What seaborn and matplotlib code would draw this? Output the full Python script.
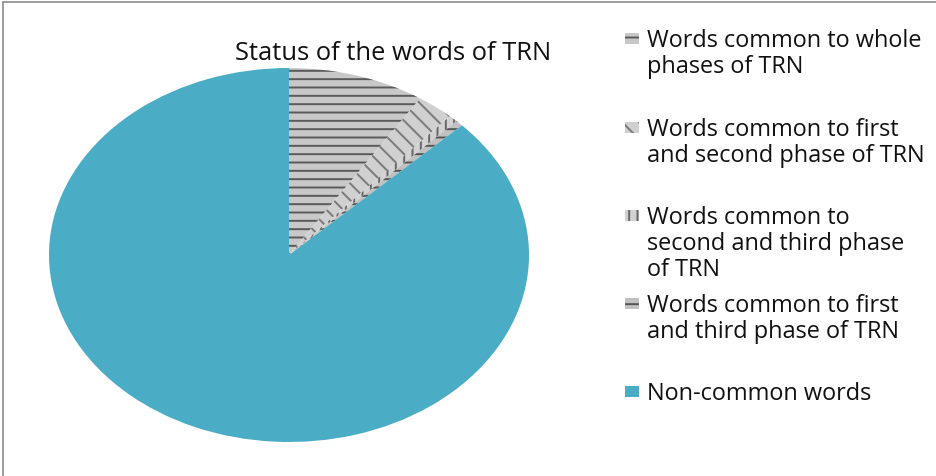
import matplotlib
matplotlib.use("Agg")
import matplotlib.pyplot as plt
from matplotlib.patches import Rectangle
from matplotlib.lines import Line2D
import seaborn as sns

categories = [
    "Words common to whole\nphases of TRN",
    "Words common to first\nand second phase of TRN",
    "Words common to\nsecond and third phase\nof TRN",
    "Words common to first\nand third phase of TRN",
    "Non-common words",
]
values = [9.2, 2.5, 0.6, 0.5, 87.2]
title = "Status of the words of TRN"

sns.set_theme(style="white")
plt.rcParams["font.family"] = ["Open Sans", "DejaVu Sans"]
plt.rcParams["hatch.linewidth"] = 1.4

face = ["#c8c8c8", "#d0d0d0", "#d2d2d2", "#c0c0c0", "#4BACC6"]
hatch_col = ["#5a5a5a", "#7a7a7a", "#666666", "#555555", "#4BACC6"]
hatches = ["--", "\\\\", "||", "--", ""]

fig = plt.figure(figsize=(9.37, 4.77), dpi=100)
ax = fig.add_axes([49 / 937, 1 - 443 / 477, 480 / 937, 374 / 477])
wedges, _ = ax.pie(values, startangle=90, counterclock=False, colors=face,
                   wedgeprops=dict(linewidth=0))
for w, h, hc in zip(wedges, hatches, hatch_col):
    if h:
        w.set_hatch(h)
        w.set_edgecolor(hc)
        w.set_linewidth(0)
ax.set_aspect("auto")
ax.set_xlim(-1, 1)
ax.set_ylim(-1, 1)
ax.axis("off")

fig.text(393 / 937, 1 - 54 / 477, title, ha="center", va="center", fontsize=18.4, color="#111111")

# legend
starts = [39, 128, 216, 304, 392]
for lab, y0, fc, h, hc in zip(categories, starts, face, hatches, hatch_col):
    rect = Rectangle((625 / 937, 1 - (y0 + 6) / 477), 14 / 937, 11 / 477,
                     transform=fig.transFigure, facecolor=fc, edgecolor=hc if h else fc,
                     hatch=h if h else None, linewidth=0)
    fig.add_artist(rect)
    for k, line in enumerate(lab.split("\n")):
        fig.text(647 / 937, 1 - (y0 + 2 + 26 * k) / 477, line, ha="left", va="center",
                 fontsize=16.9, color="#111111")

# frame lines (top and left)
fig.add_artist(Line2D([3 / 937, 3 / 937], [0, 1 - 3 / 477], transform=fig.transFigure, color="#8c8c8c", lw=1.2))
fig.add_artist(Line2D([3 / 937, 1], [1 - 3 / 477, 1 - 3 / 477], transform=fig.transFigure, color="#8c8c8c", lw=1.2))

fig.savefig("out.png", dpi=100)
